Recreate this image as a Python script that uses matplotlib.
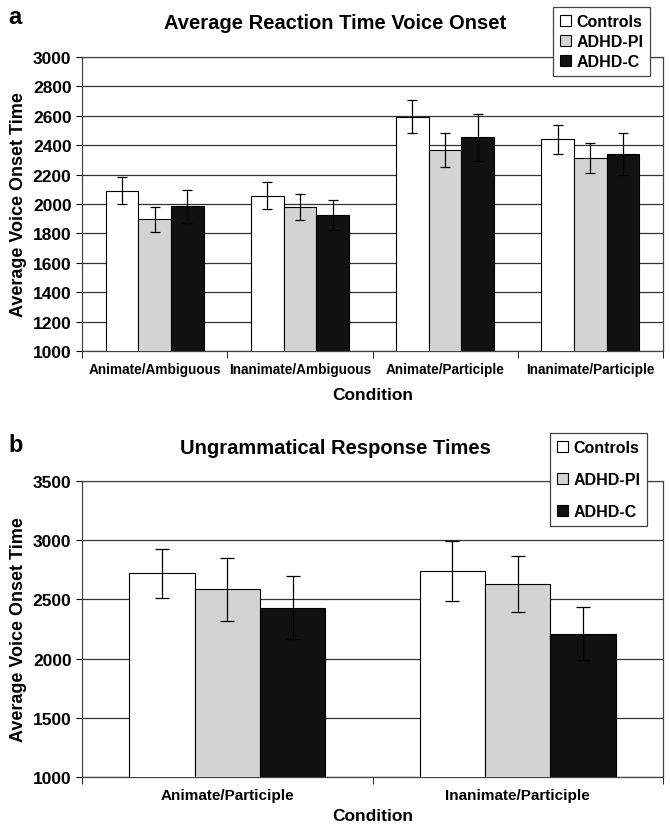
import numpy as np
import matplotlib
matplotlib.use('Agg')
import matplotlib.pyplot as plt
from matplotlib.patches import Patch

plt.rcParams['font.family'] = ['Liberation Sans', 'DejaVu Sans']
plt.rcParams['font.weight'] = 'bold'

groups = ['Controls', 'ADHD-PI', 'ADHD-C']
colors = ['white', '#d3d3d3', '#111111']

cond_a = ['Animate/Ambiguous', 'Inanimate/Ambiguous', 'Animate/Participle', 'Inanimate/Participle']
mean_a = {
    'Controls': [2090, 2055, 2595, 2440],
    'ADHD-PI': [1895, 1980, 2370, 2315],
    'ADHD-C': [1985, 1925, 2455, 2340],
}
err_a = {
    'Controls': [92, 92, 112, 100],
    'ADHD-PI': [85, 88, 115, 103],
    'ADHD-C': [112, 105, 160, 145],
}

cond_b = ['Animate/Participle', 'Inanimate/Participle']
mean_b = {
    'Controls': [2720, 2740],
    'ADHD-PI': [2585, 2630],
    'ADHD-C': [2430, 2210],
}
err_b = {
    'Controls': [207, 252],
    'ADHD-PI': [268, 240],
    'ADHD-C': [265, 225],
}


def draw_panel(ax, conds, means, errs, ylim, step, title, capsize, xfs, tpad):
    x = np.arange(len(conds))
    w = 0.225
    for i, g in enumerate(groups):
        ax.bar(x + (i - 1) * w, means[g], w, color=colors[i], edgecolor='black',
               linewidth=0.8, zorder=3, label=g)
        ax.errorbar(x + (i - 1) * w, means[g], yerr=errs[g], fmt='none',
                    ecolor='black', elinewidth=0.9, capsize=capsize, capthick=0.9, zorder=4)
    ax.set_xlim(-0.5, len(conds) - 0.5)
    ax.set_ylim(*ylim)
    ax.set_yticks(np.arange(ylim[0], ylim[1] + 1, step))
    ax.yaxis.grid(True, color='#333333', linewidth=0.9, zorder=0)
    ax.set_axisbelow(True)
    ax.set_xticks(x)
    ax.set_xticklabels(conds, fontsize=xfs)
    ax.tick_params(axis='x', length=0, pad=8)
    ax.set_xticks(np.arange(-0.5, len(conds)), minor=True)
    ax.tick_params(axis='x', which='minor', length=5, direction='out')
    ax.tick_params(axis='y', labelsize=12.5, length=4, direction='out')
    for s in ax.spines.values():
        s.set_color('#444444')
        s.set_linewidth(0.9)
    t = ax.set_title(title, fontsize=14.5, fontweight='bold', pad=tpad)
    t.set_x((335 - 82) / 581)
    ax.set_xlabel('Condition', fontsize=12.5, fontweight='bold')
    ax.set_ylabel('Average Voice Onset Time', fontsize=13, fontweight='bold')


fig = plt.figure(figsize=(6.7, 8.29), dpi=100)
ax1 = fig.add_axes([82 / 670, 1 - 352 / 829, 581 / 670, 294 / 829])
ax2 = fig.add_axes([82 / 670, 1 - 778 / 829, 581 / 670, 296 / 829])

draw_panel(ax1, cond_a, mean_a, err_a, (1000, 3000), 200,
           'Average Reaction Time Voice Onset', 3.5, 9.8, 21)
draw_panel(ax2, cond_b, mean_b, err_b, (1000, 3500), 500,
           'Ungrammatical Response Times', 5, 11, 20)
ax1.xaxis.labelpad = 8
ax2.xaxis.labelpad = 4

handles = [Patch(facecolor=colors[i], edgecolor='black', linewidth=0.8, label=g)
           for i, g in enumerate(groups)]
for loc, sp in [((553 / 670, 1 - 8 / 829), 0.3), ((550 / 670, 1 - 434 / 829), 1.05)]:
    leg = fig.legend(handles=handles, loc='upper left', bbox_to_anchor=loc,
                     fontsize=11.5, frameon=True, fancybox=False, handlelength=0.7,
                     handleheight=0.7, handletextpad=0.3, borderpad=0.45,
                     labelspacing=sp, framealpha=1, borderaxespad=0)
    leg.get_frame().set_edgecolor('#444444')
    leg.get_frame().set_linewidth(0.9)

fig.text(8 / 670, 1 - 18 / 829, 'a', fontsize=17, fontweight='bold', va='center')
fig.text(8 / 670, 1 - 446 / 829, 'b', fontsize=17, fontweight='bold', va='center')

fig.savefig('out.png', dpi=100)
